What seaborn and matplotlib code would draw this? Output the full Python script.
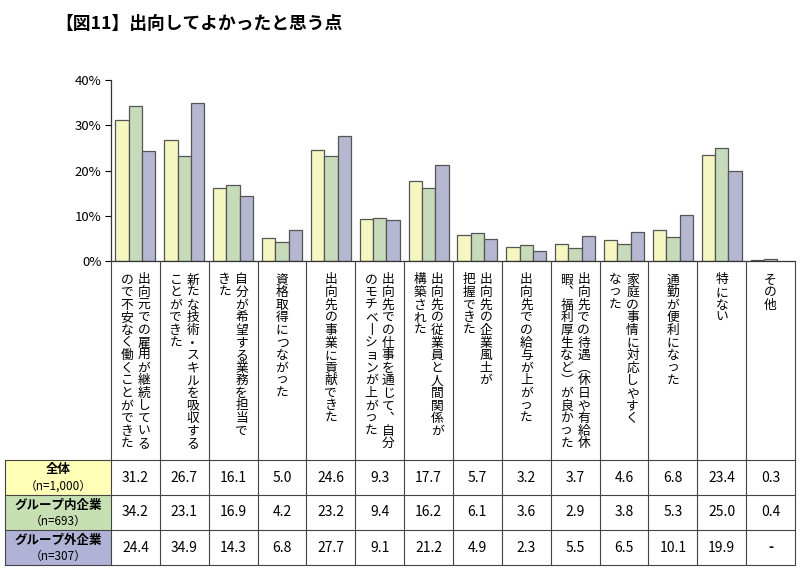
import matplotlib
matplotlib.use("Agg")
import matplotlib.pyplot as plt
import numpy as np
import pandas as pd
import seaborn as sns
from matplotlib.ticker import FuncFormatter

# ---- data ----
categories = [
    "出向元での雇用が継続しているので不安なく働くことができた",
    "新たな技術・スキルを吸収することができた",
    "自分が希望する業務を担当できた",
    "資格取得につながった",
    "出向先の事業に貢献できた",
    "出向先での仕事を通じて、自分のモチベーションが上がった",
    "出向先の従業員と人間関係が構築された",
    "出向先の企業風土が把握できた",
    "出向先での給与が上がった",
    "出向先での待遇（休日や有給休暇、福利厚生など）が良かった",
    "家庭の事情に対応しやすくなった",
    "通勤が便利になった",
    "特にない",
    "その他",
]
# how each label wraps into vertical columns (right column first)
label_columns = [
    ["出向元での雇用が継続している", "ので不安なく働くことができた"],
    ["新たな技術・スキルを吸収する", "ことができた"],
    ["自分が希望する業務を担当で", "きた"],
    ["資格取得につながった"],
    ["出向先の事業に貢献できた"],
    ["出向先での仕事を通じて、自分", "のモチベーションが上がった"],
    ["出向先の従業員と人間関係が", "構築された"],
    ["出向先の企業風土が", "把握できた"],
    ["出向先での給与が上がった"],
    ["出向先での待遇（休日や有給休", "暇、福利厚生など）が良かった"],
    ["家庭の事情に対応しやすく", "なった"],
    ["通勤が便利になった"],
    ["特にない"],
    ["その他"],
]
series = ["全体", "グループ内企業", "グループ外企業"]
series_n = ["（n=1,000）", "（n=693）", "（n=307）"]
all_vals = [31.2, 26.7, 16.1, 5.0, 24.6, 9.3, 17.7, 5.7, 3.2, 3.7, 4.6, 6.8, 23.4, 0.3]
in_group = [34.2, 23.1, 16.9, 4.2, 23.2, 9.4, 16.2, 6.1, 3.6, 2.9, 3.8, 5.3, 25.0, 0.4]
out_group = [24.4, 34.9, 14.3, 6.8, 27.7, 9.1, 21.2, 4.9, 2.3, 5.5, 6.5, 10.1, 19.9, np.nan]
colors = ["#FFFFB8", "#C6E0B4", "#B0B3D6"]

df = pd.DataFrame({
    "category": categories * 3,
    "series": [s for s in series for _ in categories],
    "value": all_vals + in_group + out_group,
})

plt.rcParams["font.family"] = ["Noto Sans CJK JP", "DejaVu Sans"]

W, H = 800, 573
fig = plt.figure(figsize=(W / 100, H / 100), dpi=100)

# pixel-layout helpers
x_left, x_right = 111, 795
y_zero, y_top = 261, 80
n = len(categories)
col_w = (x_right - x_left) / n

ax = fig.add_axes([x_left / W, 1 - y_zero / H, (x_right - x_left) / W, (y_zero - y_top) / H])
sns.barplot(data=df, x="category", y="value", hue="series", order=categories,
            hue_order=series, palette=colors, width=0.82, gap=0,
            edgecolor="#555555", linewidth=0.9, ax=ax, legend=False)
ax.set_xlim(-0.5, n - 0.5)
ax.set_ylim(0, 40)
ax.set_yticks([0, 10, 20, 30, 40])
ax.yaxis.set_major_formatter(FuncFormatter(lambda v, p: f"{v:.0f}%"))
ax.set_xticks([])
ax.set_xlabel("")
ax.set_ylabel("")
ax.tick_params(axis="y", direction="out", length=4, width=0.8, labelsize=9.5, pad=3)
for s in ["top", "right"]:
    ax.spines[s].set_visible(False)
for s in ["left", "bottom"]:
    ax.spines[s].set_linewidth(0.9)
    ax.spines[s].set_color("#333333")
ax.set_facecolor("none")

# overlay in pixel coordinates for labels and table
ov = fig.add_axes([0, 0, 1, 1])
ov.set_xlim(0, W)
ov.set_ylim(H, 0)
ov.axis("off")
ov.patch.set_alpha(0)

ov.text(55, 24, "【図11】出向してよかったと思う点", fontsize=12.8, fontweight="bold",
        ha="left", va="center")

lbl_top, tbl_top = 262, 460
row_h = 35
tbl_left = 5
line_kw = dict(color="#444444", lw=0.8)

vert_map = {"ー": "丨", "（": "︵", "）": "︶", "、": "︑"}
pitch = 12.6
for i, cols in enumerate(label_columns):
    cx = x_left + (i + 0.5) * col_w
    offsets = [0] if len(cols) == 1 else [8.5, -8.5]
    for off, text in zip(offsets, cols):
        for j, ch in enumerate(text):
            ov.text(cx + off, 280 + j * pitch, vert_map.get(ch, ch), fontsize=9.2,
                    ha="center", va="center")

# vertical separators through label area and table
for i in range(n + 1):
    xx = x_left + i * col_w
    ov.plot([xx, xx], [y_zero, tbl_top + 3 * row_h], **line_kw)

# table rows
for r, (name, nn, c) in enumerate(zip(series, series_n, colors)):
    y0 = tbl_top + r * row_h
    ov.add_patch(plt.Rectangle((tbl_left, y0), x_left - tbl_left, row_h,
                               facecolor=c, edgecolor="none"))
    ov.text((tbl_left + x_left) / 2, y0 + 10, name, fontsize=9, fontweight="bold",
            ha="center", va="center")
    ov.text((tbl_left + x_left) / 2, y0 + 26, nn, fontsize=8.5, ha="center", va="center")
    vals = [all_vals, in_group, out_group][r]
    for i, v in enumerate(vals):
        txt = "-" if np.isnan(v) else f"{v:.1f}"
        ov.text(x_left + (i + 0.5) * col_w, y0 + row_h / 2, txt, fontsize=10,
                ha="center", va="center", fontweight="bold" if np.isnan(v) else "normal")

for r in range(4):
    yy = tbl_top + r * row_h
    ov.plot([tbl_left, x_right], [yy, yy], **line_kw)
ov.plot([tbl_left, tbl_left], [tbl_top, tbl_top + 3 * row_h], **line_kw)

fig.savefig("out.png", dpi=100)
